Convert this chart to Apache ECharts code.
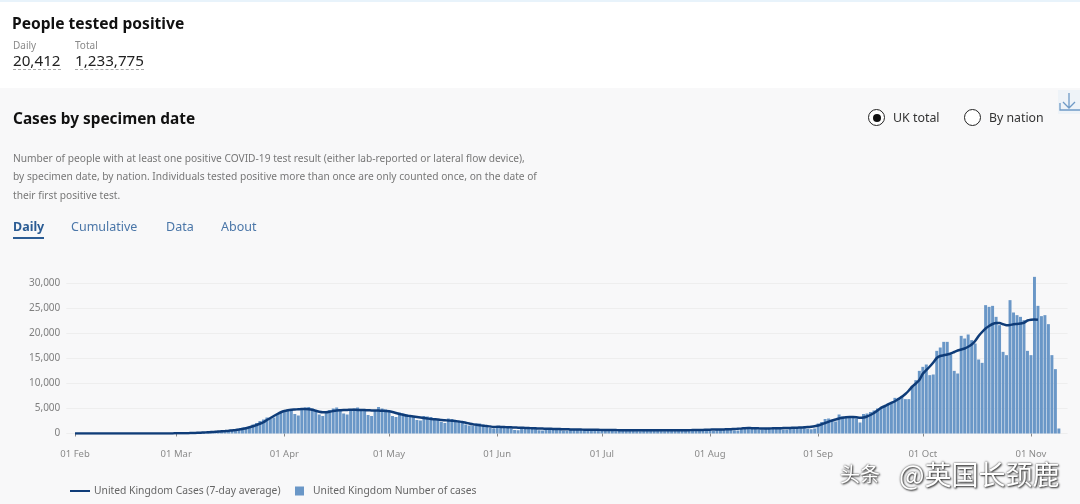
<!DOCTYPE html>
<html>
<head>
<meta charset="utf-8">
<script src="https://cdn.jsdelivr.net/npm/echarts@6/dist/echarts.min.js"></script>
<style>
  html, body { margin: 0; padding: 0; }
  body { width: 1080px; height: 504px; overflow: hidden; position: relative; background: #f8f8f9; font-family: "Noto Sans", sans-serif; }
  #topBand { position: absolute; left: 0; top: 0; width: 1080px; height: 88px; background: #fff; border-top: 2px solid #e8f3fb; box-sizing: border-box; }
  #chart { position: absolute; left: 0; top: 0; width: 1080px; height: 504px; }
  .t { position: absolute; white-space: nowrap; line-height: 1; }
  .radio { position: absolute; width: 15px; height: 15px; border: 1.5px solid #222; border-radius: 50%; background: #fff; }
  .radio.on::after { content: ''; position: absolute; left: 3.5px; top: 3.5px; width: 8px; height: 8px; border-radius: 50%; background: #111; }
</style>
</head>
<body>
<div id="topBand"></div>
<div id="chart"></div>

<div class="t" style="left:12px;top:16px;font-size:15.6px;font-weight:700;color:#111">People tested positive</div>
<div class="t" style="left:13px;top:40px;font-size:10px;color:#8a8a8a">Daily</div>
<div class="t" style="left:75px;top:40px;font-size:10px;color:#8a8a8a">Total</div>
<div class="t" style="left:13px;top:53px;font-size:15.2px;color:#222;padding-bottom:1px;border-bottom:1px dashed #aaa">20,412</div>
<div class="t" style="left:75px;top:53px;font-size:15.2px;color:#222;padding-bottom:1px;border-bottom:1px dashed #aaa">1,233,775</div>

<div class="t" style="left:13px;top:111px;font-size:15.4px;font-weight:700;color:#111">Cases by specimen date</div>
<div class="t" style="left:13px;top:153px;font-size:10.2px;color:#777">Number of people with at least one positive COVID-19 test result (either lab-reported or lateral flow device),</div>
<div class="t" style="left:13px;top:171px;font-size:10.2px;color:#777">by specimen date, by nation. Individuals tested positive more than once are only counted once, on the date of</div>
<div class="t" style="left:13px;top:190px;font-size:10.2px;color:#777">their first positive test.</div>

<div class="t" style="left:13px;top:221px;font-size:12.5px;font-weight:700;color:#2b5c94;padding-bottom:3px;border-bottom:2px solid #2b5c94">Daily</div>
<div class="t" style="left:71px;top:221px;font-size:12.5px;color:#4a76a8">Cumulative</div>
<div class="t" style="left:166px;top:221px;font-size:12.5px;color:#4a76a8">Data</div>
<div class="t" style="left:221px;top:221px;font-size:12.5px;color:#4a76a8">About</div>

<div class="radio on" style="left:868px;top:109px"></div>
<div class="t" style="left:893px;top:112px;font-size:12.4px;color:#333">UK total</div>
<div class="radio" style="left:964px;top:109px"></div>
<div class="t" style="left:989px;top:112px;font-size:12.3px;color:#333">By nation</div>

<svg style="position:absolute;left:1058px;top:90px" width="22" height="24">
  <rect width="22" height="24" fill="#eef3f8"/>
  <path d="M2 13 V20 H22 M11 3 V18 M5 12 L11 18 L17 12" fill="none" stroke="#6f9ac6" stroke-width="1.3"/>
</svg>

<div class="t" style="left:840px;top:464px;font-size:20px;color:#fff;font-family:'Noto Sans CJK SC',sans-serif;text-shadow:0 0 2px #333,1px 1px 2px #333">头条</div>
<div class="t" style="left:899px;top:460px;font-size:27px;color:#fff;font-family:'Noto Sans CJK SC',sans-serif;text-shadow:0 0 2px #333,1px 1px 2px #333">@英国长颈鹿</div>

<script>
const yTicks = [0, 5000, 10000, 15000, 20000, 25000, 30000];
const monthLabels = { '02': '01 Feb', '03': '01 Mar', '04': '01 Apr', '05': '01 May', '06': '01 Jun', '07': '01 Jul', '08': '01 Aug', '09': '01 Sep', '10': '01 Oct', '11': '01 Nov' };

// 일별 확진자 수
const casesFeb = [2,1,1,0,1,0,1,2,3,2,1,0,0,1,0,1,2,1,1,2,3,4,5,6,8,10,12,15,20];
const casesMar = [30,40,50,70,90,110,80,120,220,290,350,380,400,350,480,680,780,900,1000,1200,1300,1250,1800,2100,2500,2800,3200,3000,3200,3900,4300];
const casesApr = [4700,4800,4900,3900,3600,4800,5200,5300,5000,4700,3800,3500,4200,4700,5000,5200,4900,4000,3800,4600,5000,5200,4800,4600,3700,3500,4700,5300,5000,4800];
const casesMay = [4500,3500,3300,4200,4000,3800,3700,3400,2700,2600,3500,3400,3300,3100,2800,2300,2100,3000,2900,2700,2500,2400,1800,1600,1500,2000,2000,1800,1600,1100,1000];
const casesJun = [1200,1150,1100,1100,1050,700,650,1050,1000,950,950,900,650,600,850,850,800,800,780,580,550,780,750,720,700,680,520,500,700,680];
const casesJul = [700,680,660,500,480,690,680,660,650,630,480,460,680,670,660,650,640,490,470,700,690,680,670,650,500,480,730,720,710,700,690];
const casesAug = [540,510,800,800,820,830,840,620,600,1050,1100,1120,1150,1100,850,800,1100,1120,1080,1050,1040,800,780,1150,1200,1250,1300,1280,950,850,1000];
const casesSep = [2000,2300,2900,3000,2500,2400,3800,3400,3400,3300,3500,3000,2200,3900,4000,4300,4600,5000,5130,5330,6000,6330,7130,7130,7530,6870,6870,9470,10670,12530];
const casesOct = [13330,13800,11670,11800,16530,17200,18330,18330,15800,12530,12000,19530,19000,19800,18670,18000,14800,14130,25670,25330,25530,23330,21670,16330,15670,26670,24200,23670,23330,22670,16530];
const casesNov = [15670,31330,25530,23470,23670,21870,15670,12870,1000];

// 7일 평균
const avgFeb = [5,5,5,5,5,5,5,5,5,5,5,5,5,5,5,5,5,5,5,5,5,5,6,7,8,10,12,16,22];
const avgMar = [30,40,50,60,80,100,130,160,200,250,290,330,380,430,480,540,620,700,800,920,1050,1250,1450,1700,1950,2250,2700,3100,3500,3900,4250];
const avgApr = [4500,4650,4750,4800,4850,4900,4900,4850,4750,4550,4350,4250,4250,4350,4500,4600,4650,4700,4720,4730,4730,4720,4700,4680,4650,4620,4600,4580,4550,4500];
const avgMay = [4450,4300,4100,3900,3750,3600,3500,3400,3300,3200,3100,3000,2900,2850,2800,2700,2650,2600,2550,2500,2400,2300,2150,2000,1850,1750,1650,1550,1500,1400,1300];
const avgJun = [1350,1320,1290,1260,1230,1200,1170,1150,1120,1090,1060,1030,1000,980,960,940,920,900,880,860,840,820,800,790,780,770,760,750,740,730];
const avgJul = [720,710,700,690,680,670,660,650,650,640,640,640,630,630,630,630,640,640,640,650,650,650,650,660,660,670,680,690,700,720,750];
const avgAug = [770,790,800,810,820,840,860,900,950,1000,1050,1080,1070,1050,1030,1020,1010,1020,1030,1040,1060,1080,1100,1120,1150,1170,1200,1240,1280,1350,1450];
const avgSep = [1600,1850,2100,2350,2600,2800,3000,3150,3250,3300,3300,3250,3150,3200,3400,3700,4100,4600,5130,5450,5800,6130,6450,6900,7330,7900,8600,9400,10000,10700];
const avgOct = [11950,12700,13400,14200,15100,15500,15650,15800,16000,16300,16600,16800,17000,17350,17800,18500,19500,20300,21000,21500,21900,22100,22100,21850,21650,21700,21850,21900,22000,22150,22600];
const avgNov = [22750,22800,22750];

const daily = [].concat(casesFeb, casesMar, casesApr, casesMay, casesJun, casesJul, casesAug, casesSep, casesOct, casesNov);
const average = [].concat(avgFeb, avgMar, avgApr, avgMay, avgJun, avgJul, avgAug, avgSep, avgOct, avgNov);

// 축 양끝 여백용 빈 카테고리 2칸씩
const pad = [null, null];
const dates = [];
for (let d = new Date(Date.UTC(2020, 0, 30)), i = 0; i < daily.length + 4; i++) {
    dates.push(d.toISOString().slice(0, 10));
    d.setUTCDate(d.getUTCDate() + 1);
}
const isMonthStart = (idx, value) => value.slice(8) === '01' && monthLabels[value.slice(5, 7)] !== undefined;

const chart = echarts.init(document.getElementById('chart'), null, { renderer: 'canvas' });
chart.setOption({
    animation: false,
    backgroundColor: 'transparent',
    textStyle: { fontFamily: '"Noto Sans", sans-serif' },
    grid: { left: 66.3, right: 12.4, top: 283.5, bottom: 70.5 },
    legend: [
        {
            left: 65, top: 481, icon: 'rect', itemWidth: 20, itemHeight: 2, itemGap: 0,
            data: ['United Kingdom Cases (7-day average)'],
            textStyle: { fontSize: 10.3, color: '#666', padding: [0, 0, 0, -1] }
        },
        {
            left: 290, top: 481, icon: 'rect', itemWidth: 9, itemHeight: 9, itemGap: 0,
            data: ['United Kingdom Number of cases'],
            textStyle: { fontSize: 10.3, color: '#666', padding: [0, 0, 0, 4] }
        }
    ],
    xAxis: {
        type: 'category',
        data: dates,
        offset: 10,
        axisLine: { show: false },
        axisTick: { show: true, alignWithLabel: true, interval: isMonthStart, length: 3, lineStyle: { color: '#888' } },
        axisLabel: {
            interval: isMonthStart,
            margin: 6,
            fontSize: 9.5,
            color: '#8a8a8a',
            formatter: (value) => monthLabels[value.slice(5, 7)]
        }
    },
    yAxis: {
        type: 'value',
        min: 0,
        max: 30000,
        interval: 5000,
        axisLine: { show: false },
        axisTick: { show: false },
        axisLabel: {
            margin: 6,
            fontSize: 10,
            color: '#7f7f7f',
            formatter: (v) => yTicks.includes(v) ? v.toLocaleString('en-GB') : ''
        },
        splitLine: { lineStyle: { color: '#eeeeee' } }
    },
    series: [
        {
            name: 'United Kingdom Number of cases',
            type: 'bar',
            barWidth: '85%',
            clip: false,
            itemStyle: { color: '#6a97c7' },
            data: pad.concat(daily, pad)
        },
        {
            name: 'United Kingdom Cases (7-day average)',
            type: 'line',
            showSymbol: false,
            smooth: 0.2,
            lineStyle: { width: 2.5, color: '#0f3c78' },
            itemStyle: { color: '#0f3c78' },
            data: pad.concat(average)
        }
    ]
});
</script>
</body>
</html>
